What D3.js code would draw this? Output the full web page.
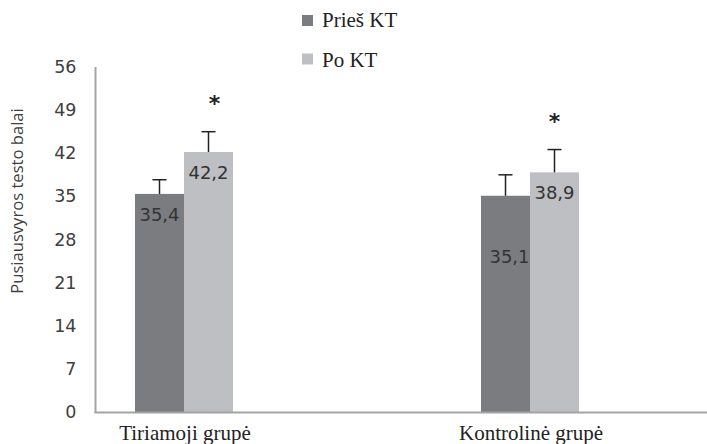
<!DOCTYPE html>
<html>
<head>
<meta charset="utf-8">
<script src="https://cdn.jsdelivr.net/npm/d3@7"></script>
<style>
  html, body { margin: 0; padding: 0; background: #fff; }
  svg { display: block; }
</style>
</head>
<body>
<svg id="chart" width="707" height="444"></svg>
<script>
// data
const groups = ['Tiriamoji grupė', 'Kontrolinė grupė'];
const series = ['Prieš KT', 'Po KT'];
const priesValues = [35.4, 35.1];
const poValues = [42.2, 38.9];
const priesErr = [2.3, 3.4];
const poErr = [3.3, 3.7];
const significant = [true, true]; // asterisk over "Po KT"
const yTicks = [0, 7, 14, 21, 28, 35, 42, 49, 56];
const yTitle = 'Pusiausvyros testo balai';

const W = 707, H = 444;
const colors = ['#7b7c80', '#bebfc2'];
const axisGrey = '#a3a3a3';
const sans = '"DejaVu Sans", Verdana, sans-serif';
const serif = '"Liberation Serif", "Times New Roman", serif';

const svg = d3.select('#chart');

const y = d3.scaleLinear().domain([0, 56]).range([412, 67]);
const x = d3.scalePoint().domain(groups).range([184, 530]);
const xs = d3.scaleBand().domain(series).range([-49, 49]);

const rows = groups.map((g, i) => ({
  group: g,
  bars: [
    { s: series[0], v: priesValues[i], e: priesErr[i] },
    { s: series[1], v: poValues[i], e: poErr[i] }
  ],
  sig: significant[i]
}));

// y axis
const yAxis = svg.append('g').attr('transform', 'translate(95.5,0)')
  .call(d3.axisLeft(y).tickValues(yTicks).tickSize(0).tickPadding(19).tickFormat(d3.format('d')));
yAxis.select('.domain').remove();
yAxis.selectAll('text').attr('font-family', sans).attr('font-size', 17.5).attr('fill', '#404040');

svg.append('line').attr('x1', 95.5).attr('x2', 95.5).attr('y1', y(56)).attr('y2', y(0) + 1)
  .attr('stroke', axisGrey).attr('stroke-width', 2);

// y title
svg.append('text')
  .attr('transform', 'translate(23,201) rotate(-90)')
  .attr('text-anchor', 'middle')
  .attr('font-family', '"Open Sans", sans-serif').attr('font-size', 16.6).attr('fill', '#404040')
  .text(yTitle);

// bars
const labelDrop = [[27, 27], [67, 27]];
const gG = svg.selectAll('g.grp').data(rows).enter().append('g')
  .attr('class', 'grp')
  .attr('transform', d => `translate(${x(d.group)},0)`);

gG.each(function (d, gi) {
  const g = d3.select(this);
  d.bars.forEach((b, si) => {
    const x0 = xs(b.s), bw = xs.bandwidth(), cx = x0 + bw / 2;
    g.append('rect').attr('x', x0).attr('width', bw)
      .attr('y', y(b.v)).attr('height', y(0) - y(b.v)).attr('fill', colors[si]);
    // error bar
    g.append('line').attr('x1', cx).attr('x2', cx).attr('y1', y(b.v)).attr('y2', y(b.v + b.e))
      .attr('stroke', '#222').attr('stroke-width', 1.5);
    g.append('line').attr('x1', cx - 7).attr('x2', cx + 7).attr('y1', y(b.v + b.e)).attr('y2', y(b.v + b.e))
      .attr('stroke', '#222').attr('stroke-width', 1.5);
    // value label
    g.append('text').attr('x', cx + (gi === 1 && si === 0 ? 4 : 0)).attr('y', y(b.v) + labelDrop[gi][si])
      .attr('text-anchor', 'middle').attr('font-family', sans).attr('font-size', 18)
      .attr('fill', '#333').text(d3.format('.1f')(b.v).replace('.', ','));
  });
  if (d.sig) {
    const b = d.bars[1];
    const cx = xs(b.s) + xs.bandwidth() / 2 + (gi === 0 ? 6 : 0);
    g.append('text').attr('x', cx).attr('y', y(b.v + b.e) - 21)
      .attr('text-anchor', 'middle').attr('font-family', sans).attr('font-weight', 'bold')
      .attr('font-size', 22).attr('fill', '#222').text('*');
  }
});

// x axis line
svg.append('line').attr('x1', 94.5).attr('x2', W).attr('y1', y(0) + 0.5).attr('y2', y(0) + 0.5)
  .attr('stroke', axisGrey).attr('stroke-width', 2);

// category labels
svg.selectAll('text.cat').data(groups).enter().append('text')
  .attr('class', 'cat')
  .attr('x', d => x(d) + 1).attr('y', 440)
  .attr('text-anchor', 'middle').attr('font-family', serif).attr('font-size', 21).attr('fill', '#222')
  .text(d => d);

// legend
const leg = svg.append('g');
series.forEach((s, i) => {
  leg.append('rect').attr('x', 302).attr('y', 15 + i * 38.5).attr('width', 11).attr('height', 11)
    .attr('fill', colors[i]);
  leg.append('text').attr('x', 322).attr('y', 27 + i * 39.5).attr('font-family', serif)
    .attr('font-size', 21).attr('fill', '#222').text(s);
});
</script>
</body>
</html>
